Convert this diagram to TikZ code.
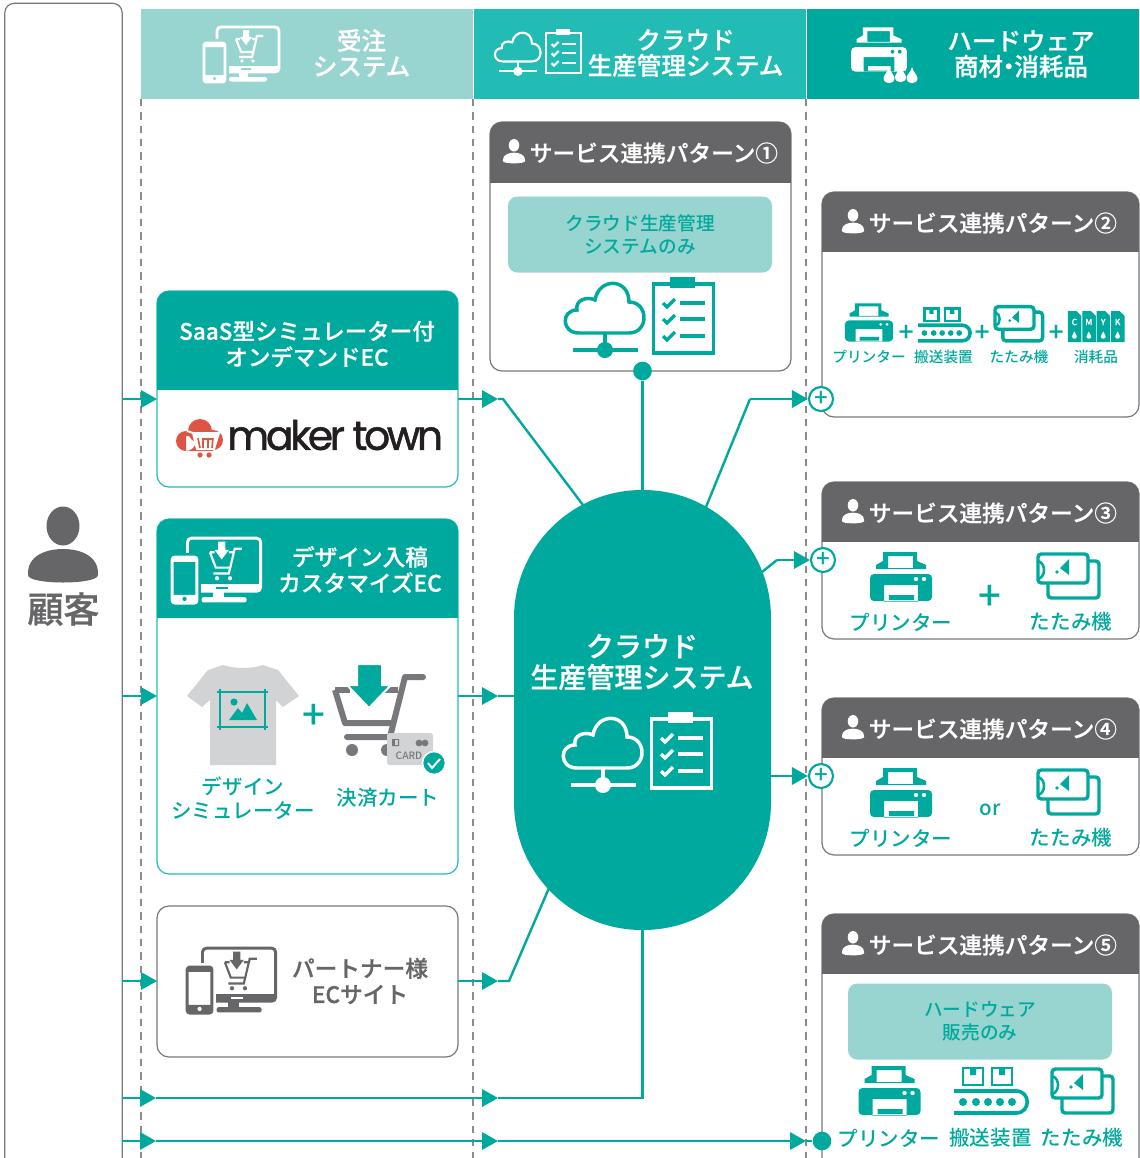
\documentclass[tikz,border=0pt]{standalone}
\usepackage{fontspec}
\setmainfont{Noto Sans CJK JP Medium}
\newfontfamily\headfont[FakeBold=.7]{Noto Sans CJK JP Medium}
\newfontfamily\logofont[FakeBold=1.3,LetterSpace=-8]{Poppins}
\usetikzlibrary{arrows.meta,positioning}

\definecolor{tealdark}{HTML}{00A99D}
\definecolor{tealmid}{HTML}{23BCB5}
\definecolor{teallight}{HTML}{99D5D0}
\definecolor{padgrey}{HTML}{666567}
\definecolor{dashgrey}{HTML}{8C8C8C}
\definecolor{shirtgrey}{HTML}{D1D3D4}
\definecolor{cartgrey}{HTML}{77787B}
\definecolor{logored}{HTML}{DD5644}
\definecolor{logoink}{HTML}{231F20}

\newcommand{\fs}[2]{\fontsize{#1}{#2}\selectfont}

\tikzset{
  colhead/.style={inner sep=0pt,outer sep=0pt,minimum width=249pt,minimum height=67.5pt},
  columnline/.style={draw=dashgrey,line width=.8pt,dash pattern=on 5.5pt off 4.5pt},
  panelbox/.style={fill=white,line width=.9pt,rounded corners=9pt,inner sep=0pt,outer sep=0pt},
  heading/.style={white,align=center,font=\headfont\fs{18.4}{19.2}},
  cardhead/.style={white,align=center,font=\headfont\fs{17}{19.5}},
  patternhead/.style={white,anchor=west,inner sep=0pt,font=\headfont\fs{17}{19}},
  softbox/.style={fill=teallight,rounded corners=7pt,inner sep=0pt,minimum width=198pt,minimum height=57pt,text=tealdark,align=center,font=\fs{14}{17}},
  itemlabel/.style={text=tealdark,align=center,inner sep=0pt,font=\fs{15.4}{18}},
  smalllabel/.style={text=tealdark,inner sep=0pt,font=\fs{11}{13}},
  flowline/.style={draw=tealdark,line width=1.8pt},
  flow/.style={flowline,-{Triangle[length=12pt,width=13pt]}},
  pluscircle/.style={circle,draw=tealdark,fill=white,line width=1.6pt,inner sep=0pt,minimum size=18pt,text=tealdark,font=\fs{18}{18}},
  plussign/.style={text=tealdark,inner sep=0pt,font=\fs{26}{26}},
  icon bg/.code={\colorlet{iconbg}{#1}},
  %%%%%
  %% icons
  %%%%%
  pics/person/.style={code={
    \fill (0,-21) ellipse (16.5 and 19.5);
    \fill (-35,28) .. controls (-36,8) and (-16,2) .. (0,2) .. controls (16,2) and (36,8) .. (35,28) .. controls (35,38) and (-35,38) .. (-35,28) -- cycle;
  }},
  pics/printer/.style={code={
    \fill[even odd rule] (-25,-7) -- (-25,-11) -- (-18,-15) -- (-18,-24) -- (16,-24) -- (16,-15) -- (25,-11) -- (25,-7) -- cycle (-13,-20) rectangle (12,-8);
    \fill[even odd rule,rounded corners=3] (-31,-2) rectangle (31,25) [sharp corners] (-17,9) rectangle (17,25.5) (-12,19) rectangle (13,24) (15,3) circle (2.3) (23,3) circle (2.3);
  }},
  pics/conveyor/.style={code={
    \draw[line width=2.1pt] (-27,-22) rectangle (-7,-5) (2,-22) rectangle (22,-5);
    \fill (-20,-22) rectangle (-14,-15) (9,-22) rectangle (15,-15);
    \draw[line width=2.7pt] (-36,1) -- (26,1) .. controls (41,1) and (41,23) .. (26,23) -- (-36,23);
    \foreach \dotx in {-27,-14,-2,10,22} \fill (\dotx,12) circle (4);
  }},
  pics/folder/.style={code={
    \draw[line width=2.6pt,rounded corners=2.5] (-29,-21) rectangle (21,8);
    \draw[line width=2.6pt,rounded corners=2.5] (22,-14) -- (32,-14) -- (32,23) -- (-19,23) -- (-19,9);
    \draw[line width=1.9pt] (-29,-14) .. controls (-21,-12) and (-21,2) .. (-29,4);
    \fill (2,-16) -- (2,0) -- (-7,-7) -- cycle (-10,-3) circle (1.9);
  }},
  pics/cloudlist/.style={code={
    %% cloud
    \draw (-26,25) .. controls (-44,25) and (-44,2) .. (-28,2) .. controls (-30,-8) and (-18,-12) .. (-10,-8) .. controls (-6,-31) and (24,-30) .. (24,-6) .. controls (44,-6) and (44,25) .. (24,25) -- cycle;
    \draw (0,25) -- (0,42) (-32,42) -- (33,42);
    \fill (0,42) circle (8);
    %% list
    \draw (48.5,-24) rectangle (108.5,45);
    \fill (65,-31) rectangle (90,-20);
    \foreach \rowy in {-5,11,28} {
      \draw (58,\rowy) -- (62,{\rowy+4}) -- (70,{\rowy-4});
      \draw (75,\rowy) -- (100,\rowy);
    }
  }},
  pics/devicecart/.style={code={
    \draw[line width=2.2pt,rounded corners=3] (-25,-27) rectangle (37,18);
    \fill (-25,12) rectangle (37,18);
    \fill (-3,18) rectangle (6,24);
    \fill[rounded corners=1.5] (-13,23) rectangle (25,27.5);
    \fill[iconbg] (-1,14) rectangle (9,16);
    \draw[iconbg,fill=iconbg,line width=5.5pt] (-38,-11) rectangle (-17,28);
    \draw[fill=iconbg,line width=2.2pt,rounded corners=2] (-38,-11) rectangle (-17,28);
    \fill (-38,-11) rectangle (-17,-7) (-38,21) rectangle (-17,28);
    \fill[iconbg] (-27.5,24.5) circle (1.8);
    %% cart
    \draw[line width=1.6pt] (21,-18) -- (15,-18) -- (10,3) -- (-3,3);
    \draw[line width=1.6pt] (-6,-15) -- (-1,-2) -- (12,-2) (-6,-15) -- (-2,-15) (10,-15) -- (14,-15);
    \fill (0,7) circle (1.8) (11,7) circle (1.8);
    \fill (1,-24) -- (7,-24) -- (7,-17) -- (10,-17) -- (4,-9) -- (-2,-17) -- (1,-17) -- cycle;
  }},
  pics/inkdrop/.style={code={
    \fill (0,-8) .. controls (1,-3) and (5.5,0) .. (5.5,3) .. controls (5.5,10) and (-5.5,10) .. (-5.5,3) .. controls (-5.5,0) and (-1,-3) .. cycle;
  }},
}

% card with a header strip
\newcommand{\panel}[8]{%
  \node (#1) [panelbox,draw=#8,minimum width={(#4-#2)*.75pt},minimum height={(#5-#3)*.75pt}] at ({(#2+#4)/2},{(#3+#5)/2}) {};
  \begin{scope}
    \clip[rounded corners=9pt] (#2,#3) rectangle (#4,#5);
    \fill[#7] (#2,#3) rectangle (#4,#6);
  \end{scope}
}
% service pattern card
\newcommand{\servicecard}[8]{%
  \panel{#1}{#2}{#3}{#4}{#5}{#6}{padgrey}{cartgrey}
  \pic[white,scale=.32] at ({#2+#7},{#3+30}) {person};
  \node (#1title) [patternhead] at ({#2+#7+15.5},{#3+31}) {サービス連携パターン#8};
}

\begin{document}
\begin{tikzpicture}[x=.75pt,y=-.75pt]
\clip (0,0) rectangle (1140,1158);
\fill[white] (0,0) rectangle (1140,1158);

\coordinate (row1) at (0,399);
\coordinate (row2) at (0,560);
\coordinate (row3) at (0,696);
\coordinate (row4) at (0,776);
\coordinate (row5) at (0,981);
\coordinate (row6) at (0,1098);
\coordinate (row7) at (0,1141);

%%%%%
%% columns
%%%%%
\node (orderhead) [colhead,fill=teallight] at (307,54) {};
\node (cloudhead) [colhead,fill=tealmid] at (640,54) {};
\node (hardhead) [colhead,fill=tealdark] at (973,54) {};

\node (ordertext) [heading] at (361.5,53) {受注\\システム};
\node (cloudtext) [heading] at (685.5,53) {クラウド\\生産管理システム};
\node (hardtext) [heading] at (1021,54) {ハードウェア\\商材\kern-.27em・\kern-.27em消耗品};

\pic[white,icon bg=teallight] at (242,54) {devicecart};
\pic[white,line width=1.6pt,scale=.58] at (518,47) {cloudlist};
\pic[white,scale=.9] at (879,49) {printer};
\pic[white] at (889,75) {inkdrop};
\pic[white] at (900.5,74) {inkdrop};
\pic[white] at (912,75) {inkdrop};

\draw[columnline] (orderhead.south west) -- (orderhead.south west |- 0,1158);
\draw[columnline] (orderhead.south east) -- (orderhead.south east |- 0,1158);
\draw[columnline] (cloudhead.south east) -- (cloudhead.south east |- 0,1158);

%%%%%
%% customer
%%%%%
\node (cust) [panelbox,draw=cartgrey,rounded corners=7pt,minimum width=88pt,minimum height=880pt] at (63.5,590) {};
\pic[padgrey] at (63,547) {person};
\node (custtext) [text=padgrey,inner sep=0pt,font=\headfont\fs{27}{27}] at (63.5,609) {顧客};

%%%%%
%% order systems
%%%%%
\panel{simec}{157}{291}{458}{487}{390}{tealdark}{tealmid}
\node (simectitle) [cardhead,font=\headfont\fs{16.9}{19.5}] at (307,344) {SaaS型シミュレーター付\\オンデマンドEC};
\fill[logored] (186,441) circle (10) (200,431) circle (12) (213,440) circle (10) (186,436) rectangle (213,451);
\draw[white,line width=1.5pt] (187,431) -- (193,433) -- (197,449) -- (214,449) -- (219,433) -- (193,433);
\fill[white] (193,434) -- (218,434) -- (214,449) -- (197,449) -- cycle;
\draw[logored,line width=1.2pt] (198,438) -- (200,448) (203,438) -- (203,448) (208,438) -- (208,448) (213,438) -- (212,448) (203,439) -- (213,439);
\fill[logored] (200,455) circle (2.6) (209,455) circle (2.6);
\node (logotext) [text=logoink,anchor=west,inner sep=0pt,font=\logofont\fs{30.5}{31}] at (227,435) {maker town};

\panel{designec}{157}{519}{458}{874}{618}{tealdark}{tealmid}
\pic[white,icon bg=tealdark,scale=1.18] at (217,570) {devicecart};
\node (designtitle) [cardhead] at (360,569.5) {デザイン入稿\\カスタマイズEC};

%% shirt
\fill[shirtgrey] (187,696) -- (208,670) -- (223,665) .. controls (235,669) and (251,669) .. (263,665) -- (278,670) -- (299,696) -- (283,707) -- (276,700) -- (276,765) -- (210,765) -- (210,700) -- (202,707) -- cycle;
\draw[tealdark,line width=1.9pt] (217,692) -- (268,692) (217,727) -- (268,727) (220,689) -- (220,730) (265,689) -- (265,730);
\fill[tealdark] (234,702) circle (3.6) (229,720) -- (238,708) -- (242,713) -- (247,703) -- (257,720) -- cycle;
\node (plusdesign) [plussign,font=\fs{30}{30}] at (314,717) {+};
\node (simlabel) [itemlabel] at (243,798) {デザイン\\シミュレーター};

%% cart
\draw[cartgrey,line width=4.5pt,line cap=round,line join=round] (423,677) -- (405,677) -- (390,737) -- (347,737);
\draw[cartgrey,line width=4.5pt,line join=round] (335,690) -- (345,723) -- (393,723);
\draw[cartgrey,line width=4.5pt] (335,690) -- (350,690) (385,690) -- (398,690);
\fill[cartgrey] (352,750) circle (6) (387,750) circle (6);
\draw[tealdark,fill=tealdark,draw=white,line width=1.5pt] (357,664) -- (382,664) -- (382,685) -- (391,685) -- (369,708) -- (347,685) -- (357,685) -- cycle;
\fill[shirtgrey,rounded corners=2pt] (387,733) rectangle (433,765);
\fill[cartgrey] (392,739) rectangle (399,746) (419,743) circle (3.4) (425,743) circle (3.4);
\fill[shirtgrey] (395,740) rectangle (398,745);
\node (cardtext) [text=cartgrey,inner sep=0pt,font=\fs{7.6}{8}] at (409,756) {CARD};
\draw[fill=tealdark,draw=white,line width=1.2pt] (434,763) circle (11.5);
\draw[white,line width=1.5pt] (428,763) -- (432,768) -- (440,759);
\node (cartlabel) [itemlabel] at (388,798) {決済カート};

\node (partnerec) [panelbox,draw=cartgrey,minimum width=225.75pt,minimum height=113.25pt] at (307.5,981.5) {};
\pic[padgrey,icon bg=white,scale=1.18] at (232,980) {devicecart};
\node (partnertitle) [cardhead,text=padgrey] at (360,981) {パートナー様\\ECサイト};

%%%%%
%% production system
%%%%%
\servicecard{patone}{490}{122}{791}{371}{183}{24}{①}
\node (patonesoft) [softbox] at (640,234.5) {クラウド生産管理\\システムのみ};
\pic[tealdark,line width=2.6pt] at (605,308) {cloudlist};

\node (prodsys) [fill=tealdark,rounded corners=96pt,inner sep=0pt,minimum width=192.75pt,minimum height=330pt] at (642.5,710) {};
\node (prodtext) [white,align=center,font=\headfont\fs{21}{23.2}] at (642,662) {クラウド\\生産管理システム};
\pic[white,line width=2.6pt] at (603,743) {cloudlist};

%%%%%
%% hardware patterns
%%%%%
\servicecard{pattwo}{822}{192}{1139}{417}{252}{31}{②}
\pic[tealdark,scale=.78] at (869,322) {printer};
\node (plustwoa) [plussign,font=\headfont\fs{19}{19}] at (906,333) {+};
\pic[tealdark,scale=.71] at (943.6,324.5) {conveyor};
\node (plustwob) [plussign,font=\headfont\fs{19}{19}] at (982,333) {+};
\pic[tealdark,scale=.78] at (1017.6,323) {folder};
\node (plustwoc) [plussign,font=\headfont\fs{19}{19}] at (1056,333) {+};
\foreach \ink [count=\inkno] in {C,M,Y,K} {
  \fill[tealdark] ({1053.5+\inkno*14.4},311) -- ({1062+\inkno*14.4},311) -- ({1067+\inkno*14.4},316) -- ({1067+\inkno*14.4},342) -- ({1053.5+\inkno*14.4},342) -- cycle;
  \node (ink\inkno) [white,inner sep=0pt,font=\headfont\fs{6.5}{7}] at ({1060+\inkno*14.4},322) {\ink};
  \pic[white,scale=.45] at ({1060+\inkno*14.4},335) {inkdrop};
}
\node (printtwo) [smalllabel] at (869,356.5) {プリンター};
\node (convtwo) [smalllabel] at (943.5,356.5) {搬送装置};
\node (foldtwo) [smalllabel] at (1019,356.5) {たたみ機};
\node (inktwo) [smalllabel] at (1096,356.5) {消耗品};

\servicecard{patthree}{822}{482}{1139}{639}{542}{31}{③}
\pic[tealdark] at (901,576) {printer};
\node (plusthree) [plussign,font=\fs{30}{30}] at (990,598) {+};
\pic[tealdark] at (1067,575) {folder};
\node (printthree) [itemlabel] at (901,622) {プリンター};
\node (foldthree) [itemlabel] at (1071,622) {たたみ機};

\servicecard{patfour}{822}{698}{1139}{855}{758}{31}{④}
\pic[tealdark] at (901,792) {printer};
\node (orfour) [itemlabel] at (990,810) {or};
\pic[tealdark] at (1067,791) {folder};
\node (printfour) [itemlabel] at (901,838) {プリンター};
\node (foldfour) [itemlabel] at (1071,838) {たたみ機};

\servicecard{patfive}{822}{914}{1139}{1172}{974}{31}{⑤}
\node (patfivesoft) [softbox] at (980,1021.5) {ハードウェア\\販売のみ};
\pic[tealdark] at (889.5,1090) {printer};
\pic[tealdark] at (990,1090) {conveyor};
\pic[tealdark] at (1081,1090) {folder};
\node (printfive) [itemlabel] at (889,1138) {プリンター};
\node (convfive) [itemlabel] at (990.5,1138) {搬送装置};
\node (foldfive) [itemlabel] at (1082,1138) {たたみ機};

%%%%%
%% connectors
%%%%%
\node (plustwo) [pluscircle] at (821,399) {+};
\node (plusthr) [pluscircle] at (823,560) {+};
\node (plusfou) [pluscircle] at (821,776) {+};
\node (dotone) [circle,fill=tealdark,inner sep=0pt,minimum size=14pt] at (642.5,371) {};
\node (dottwo) [circle,fill=tealdark,inner sep=0pt,minimum size=14pt] at (822,1141) {};

\coordinate (gateone) at (498,399);
\coordinate (gatethree) at (498,696);
\coordinate (gatefive) at (498,981);
\coordinate (gatesix) at (498,1098);
\coordinate (gateseven) at (498,1141);
\coordinate (leftsix) at (156,1098);
\coordinate (leftseven) at (156,1141);

\draw[flow] (cust.east |- row1) -- (simec.west |- row1);
\draw[flow] (cust.east |- row3) -- (designec.west |- row3);
\draw[flow] (cust.east |- row5) -- (partnerec.west |- row5);

\draw[flow] (simec.east |- row1) -- (gateone);
\draw[flowline] (gateone) -- (503,399) -- (583,505);
\draw[flow] (designec.east |- row3) -- (gatethree);
\draw[flowline] (gatethree) -- (prodsys.west |- row3);
\draw[flow] (partnerec.east |- row5) -- (gatefive);
\draw[flowline] (gatefive) -- (509,981) -- (549,888);

\draw[flowline] (dotone) -- (prodsys.north);
\draw[flowline] (706,507) -- (750,399);
\draw[flow] (750,399) -- (plustwo.west);
\draw[flowline] (762,572) -- (777,560);
\draw[flow] (777,560) -- (plusthr.west);
\draw[flow] (prodsys.east |- row4) -- (plusfou.west);

\draw[flow] (cust.east |- row6) -- (leftsix);
\draw[flow] (leftsix) -- (gatesix);
\draw[flowline] (gatesix) -- (prodsys.south |- row6) -- (prodsys.south);

\draw[flow] (cust.east |- row7) -- (leftseven);
\draw[flow] (leftseven) -- (gateseven);
\draw[flow] (gateseven) -- (806,1141);
\draw[flowline] (806,1141) -- (dottwo);

\end{tikzpicture}
\end{document}
